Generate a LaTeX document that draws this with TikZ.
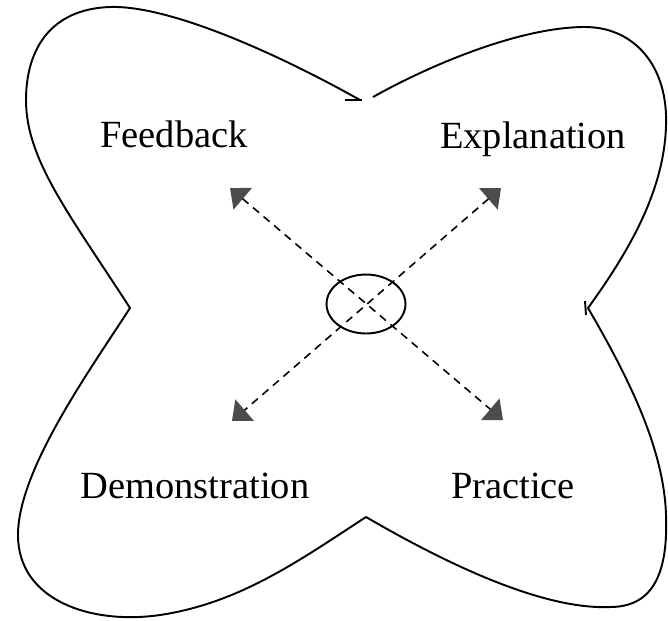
\documentclass[tikz,border=0pt]{standalone}
\usepackage{fontspec}
\setmainfont{Liberation Serif}
\usetikzlibrary{
    arrows.meta,
    shapes.geometric
}
\definecolor{tipgrey}{gray}{0.3}
\tikzset {
    outline/.style = {line width = 1.1pt, line join = round},
    hub/.style = {
        ellipse, draw, line width = 1.1pt, inner sep = 0pt,
        minimum width = 1.58cm, minimum height = 1.18cm
    },
    phase/.style = {
        inner sep = 0pt, anchor = base,
        font = \fontsize{21.9pt}{26pt}\selectfont
    },
    %
    dashed arrow/.style = {
        line width = 0.9pt,
        dash pattern = on 4.5pt off 3.4pt,
        arrows = {
            Triangle[length = 9.5pt, width = 16pt, color = tipgrey]-%
            Triangle[length = 9.5pt, width = 16pt, color = tipgrey]
        }
    }
}

\begin{document}
\begin{tikzpicture}[x = 0.02cm, y = -0.02cm]
    \useasboundingbox (0, 0) rectangle (668, 620);
    \clip (0, 0) rectangle (668, 620);
    % four-lobed outline
    \draw [outline] (373, 97)
        .. controls (430, 65) and (520, 27) .. (585, 27)
        .. controls (630, 27) and (664, 60) .. (666, 115)
        .. controls (668, 185) and (630, 250) .. (588, 308)
        .. controls (630, 380) and (664, 450) .. (666, 515)
        .. controls (668, 570) and (655, 607) .. (610, 607)
        .. controls (540, 610) and (440, 560) .. (366, 517)
        .. controls (300, 560) and (240, 603) .. (160, 615)
        .. controls (90, 625) and (18, 600) .. (18, 535)
        .. controls (18, 470) and (90, 370) .. (130, 308)
        .. controls (70, 215) and (26, 160) .. (26, 100)
        .. controls (26, 50) and (50, 9) .. (110, 7)
        .. controls (170, 5) and (280, 55) .. (360, 100);
    \draw [outline] (345, 100) -- (362, 100);
    \draw [outline] (585, 301) -- (586, 315);
    % labels
    \node (feedback) [phase] at (174, 147) {Feedback};
    \node (explanation) [phase] at (533, 148) {Explanation};
    \node (demonstration) [phase] at (195, 498) {Demonstration};
    \node (practice) [phase] at (513, 498) {Practice};
    % centre and arrows
    \node (hub) [hub] at (366, 304) {};
    \coordinate (fb tip) at (230, 188);
    \coordinate (ex tip) at (501, 188);
    \coordinate (de tip) at (232, 421);
    \coordinate (pr tip) at (503, 420);
    \draw [dashed arrow] (fb tip) -- (pr tip);
    \draw [dashed arrow] (ex tip) -- (de tip);
\end{tikzpicture}
\end{document}
